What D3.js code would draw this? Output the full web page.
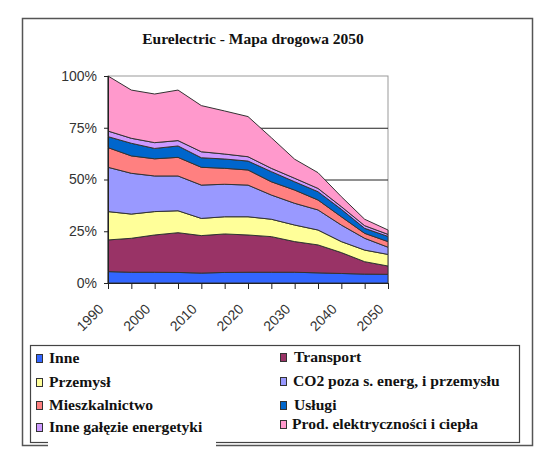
<!DOCTYPE html>
<html><head><meta charset="utf-8">
<script src="https://cdn.jsdelivr.net/npm/d3@7/dist/d3.min.js"></script>
<style>body{margin:0;background:#fff}svg{display:block}</style>
</head><body>
<svg id="c" width="557" height="462"></svg>
<script>
const years = [1990,1995,2000,2005,2010,2015,2020,2025,2030,2035,2040,2045,2050];
const yearLabels = [1990,2000,2010,2020,2030,2040,2050];
const yTicks = [0,0.25,0.5,0.75,1];
const seriesNames = ["Inne","Transport","Przemysł","CO2 poza s. energ, i przemysłu","Mieszkalnictwo","Usługi","Inne gałęzie energetyki","Prod. elektryczności i ciepła"];
const seriesColors = ["#3366ff","#993366","#ffff99","#9999ff","#ff8080","#0066cc","#cc99ff","#ff99cc"];
const inne        = [5.5,5.2,5.2,5.1,4.8,5.1,5.2,5.2,5.2,4.9,4.6,4.3,4.2];
const transport   = [15.3,16.4,18.0,19.2,18.1,18.6,18.0,17.2,14.8,13.5,10.1,6.0,4.0];
const przemysl    = [13.7,11.7,11.3,10.6,8.3,8.3,8.8,8.4,8.0,7.2,5.3,5.6,5.6];
const co2poza     = [21.4,19.7,17.2,16.8,16.1,15.7,15.3,11.7,10.5,9.7,8.0,5.7,3.5];
const mieszk      = [9.5,8.4,8.3,9.0,8.6,7.7,7.3,6.4,6.4,4.8,4.0,2.4,2.7];
const uslugi      = [5.3,6.1,5.0,5.5,4.6,4.5,4.3,4.9,4.0,4.0,3.6,2.4,2.5];
const inneGalezie = [2.7,2.4,2.8,2.6,2.9,2.4,2.1,1.6,1.7,1.6,1.3,1.3,1.0];
const prodElektr  = [26.6,23.3,23.5,24.4,22.3,20.8,19.4,14.8,9.2,7.6,4.8,3.1,2.1];
const seriesValues = [inne,transport,przemysl,co2poza,mieszk,uslugi,inneGalezie,prodElektr];

const table = years.map((y,i)=>{const o={year:y};seriesNames.forEach((n,k)=>o[n]=seriesValues[k][i]/100);return o;});
const svg = d3.select("#c");

// outer frame
svg.append("rect").attr("x",22.5).attr("y",18.5).attr("width",510).attr("height",427)
  .attr("fill","#fff").attr("stroke","#555").attr("stroke-width",1.5);

svg.append("text").attr("x",253).attr("y",44).attr("text-anchor","middle")
  .attr("font-family","Liberation Serif, serif").attr("font-weight","bold").attr("font-size",15.5)
  .attr("fill","#111").text("Eurelectric - Mapa drogowa 2050");

const x = d3.scalePoint().domain(years).range([108,388]);
const y = d3.scaleLinear().domain([0,1]).range([283,76]);

// plot border
svg.append("rect").attr("x",108).attr("y",76).attr("width",280).attr("height",207)
  .attr("fill","none").attr("stroke","#999").attr("stroke-width",1);
// gridlines
svg.append("g").selectAll("line").data([0.25,0.5,0.75]).join("line")
  .attr("x1",108).attr("x2",388).attr("y1",d=>y(d)+0.5).attr("y2",d=>y(d)+0.5)
  .attr("stroke","#222").attr("stroke-width",1);

const stack = d3.stack().keys(seriesNames);
const layers = stack(table);
const area = d3.area().x(d=>x(d.data.year)).y0(d=>y(d[0])).y1(d=>y(d[1]));
svg.append("g").selectAll("path").data(layers).join("path")
  .attr("d",area).attr("fill",(d,i)=>seriesColors[i])
  .attr("stroke","#333").attr("stroke-width",1).attr("stroke-linejoin","round");

// axes
const yAxis = d3.axisLeft(y).tickValues(yTicks).tickFormat(d3.format(".0%")).tickSize(4).tickPadding(7);
const gy = svg.append("g").attr("transform","translate(108,0)").call(yAxis);
gy.selectAll("text").attr("font-family","Liberation Sans, Arial, sans-serif").attr("font-size",14).attr("fill","#333");
gy.select(".domain").attr("stroke","#222");
gy.selectAll(".tick line").attr("stroke","#222");

const xAxis = d3.axisBottom(x).tickValues(years).tickSize(6).tickFormat(d=>yearLabels.includes(d)?d:"");
const gx = svg.append("g").attr("transform","translate(0,283)").call(xAxis);
gx.select(".domain").attr("stroke","#222");
gx.selectAll(".tick line").attr("stroke","#222");
gx.selectAll("text").attr("font-family","Liberation Sans, Arial, sans-serif").attr("font-size",14).attr("fill","#333")
  .attr("text-anchor","end").attr("x",0).attr("y",0).attr("dy",0)
  .attr("transform","translate(-4,27) rotate(-45)");

// legend
svg.append("rect").attr("x",30.5).attr("y",345.5).attr("width",489).attr("height",97)
  .attr("fill","#fff").attr("stroke","#444").attr("stroke-width",1.2);
const legPos = [[36,363,49],[280,362,294],[36,387,49],[280,386,293],[36,410,49],[280,410,294],[36,432,49],[280,429,292]];
const lg = svg.append("g").selectAll("g").data(seriesNames).join("g");
lg.append("rect").attr("x",(d,i)=>legPos[i][0]+0.5).attr("y",(d,i)=>legPos[i][1]-8.5)
  .attr("width",6).attr("height",8).attr("fill",(d,i)=>seriesColors[i]).attr("stroke","#333");
lg.append("text").attr("x",(d,i)=>legPos[i][2]).attr("y",(d,i)=>legPos[i][1])
  .attr("font-family","Liberation Serif, serif").attr("font-weight","bold").attr("font-size",15.6).attr("fill","#111")
  .text(d=>d);
// white patch at the bottom of the legend
svg.append("rect").attr("x",48).attr("y",440).attr("width",168).attr("height",8).attr("fill","#fff");
</script>
</body></html>
